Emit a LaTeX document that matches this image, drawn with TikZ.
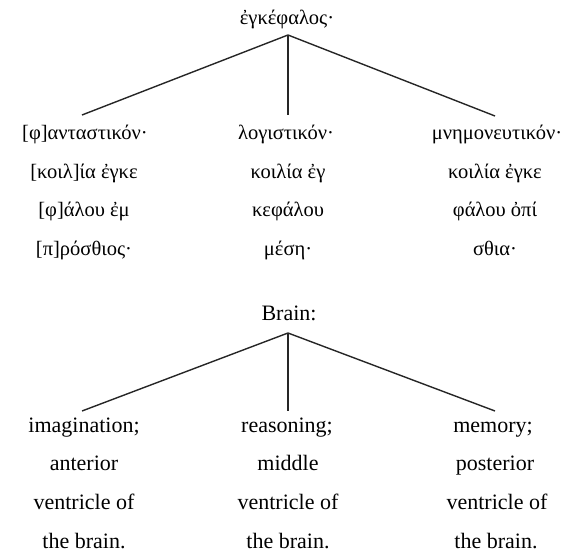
\documentclass[tikz,border=0pt]{standalone}
\usepackage{fontspec}
\setmainfont{Liberation Serif}
\begin{document}
\begin{tikzpicture}[x=1pt,y=-1pt,
  txt/.style={anchor=base,inner sep=0pt,font=\fontsize{22}{26}\selectfont},
  grk/.style={anchor=base,inner sep=0pt,font=\fontsize{20.5}{24}\selectfont},
  conn/.style={draw=black!85,line width=1.4pt}]
\useasboundingbox (0,0) rectangle (563,556);
% Greek tree
\node[grk] (gt) at (287,25) {ἐγκέφαλος·};
\coordinate (ga) at (288,35);
\node[grk] (g11) at (85,140) {[φ]ανταστικόν·};
\node[grk] (g12) at (84,178.5) {[κοιλ]ία ἐγκε};
\node[grk] (g13) at (84,217) {[φ]άλου ἐμ};
\node[grk] (g14) at (84,255.5) {[π]ρόσθιος·};
\node[grk] (g21) at (286,140) {λογιστικόν·};
\node[grk] (g22) at (288,178.5) {κοιλία ἐγ};
\node[grk] (g23) at (288,217) {κεφάλου};
\node[grk] (g24) at (288,255.5) {μέση·};
\node[grk] (g31) at (497,140) {μνημονευτικόν·};
\node[grk] (g32) at (495,178.5) {κοιλία ἐγκε};
\node[grk] (g33) at (495,217) {φάλου ὀπί};
\node[grk] (g34) at (495,255.5) {σθια·};
\coordinate (gl) at (82,115);
\coordinate (gm) at (288,115);
\coordinate (gr) at (495,116);
\draw[conn] (ga) -- (gl);
\draw[conn] (ga) -- (gm);
\draw[conn] (ga) -- (gr);
% English tree
\node[txt] (et) at (289,321) {Brain:};
\coordinate (ea) at (288,333);
\node[txt] (e11) at (84,432) {imagination;};
\node[txt] (e12) at (84,471) {anterior};
\node[txt] (e13) at (84,509.5) {ventricle of};
\node[txt] (e14) at (84,548) {the brain.};
\node[txt] (e21) at (287,432) {reasoning;};
\node[txt] (e22) at (288,471) {middle};
\node[txt] (e23) at (288,509.5) {ventricle of};
\node[txt] (e24) at (288,548) {the brain.};
\node[txt] (e31) at (493,432) {memory;};
\node[txt] (e32) at (495,471) {posterior};
\node[txt] (e33) at (497,509.5) {ventricle of};
\node[txt] (e34) at (496,548) {the brain.};
\coordinate (el) at (82,411);
\coordinate (em) at (288,411);
\coordinate (er) at (495,411);
\draw[conn] (ea) -- (el);
\draw[conn] (ea) -- (em);
\draw[conn] (ea) -- (er);
\end{tikzpicture}
\end{document}
